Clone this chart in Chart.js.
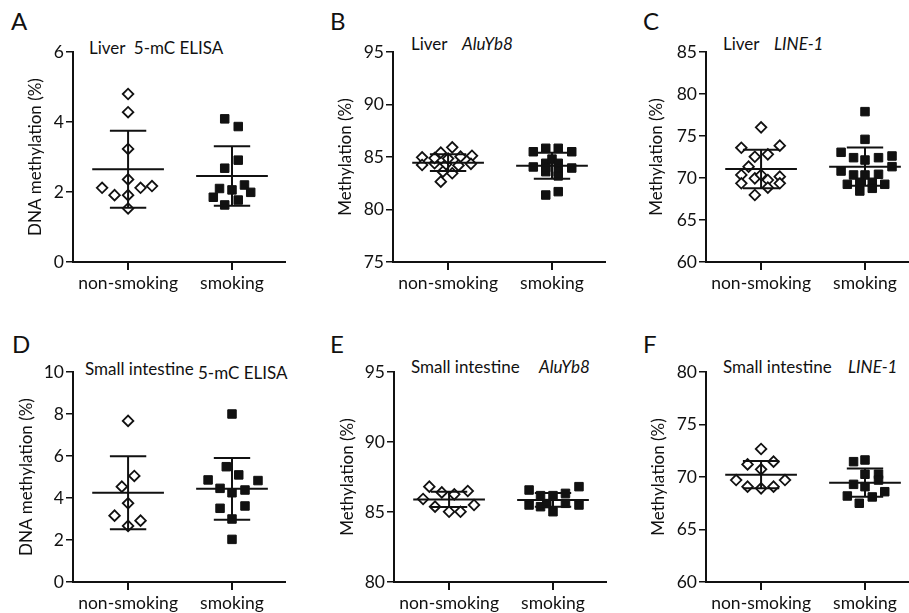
<!DOCTYPE html>
<html>
<head>
<meta charset="utf-8">
<script src="https://cdn.jsdelivr.net/npm/chart.js@4.4.0/dist/chart.umd.min.js"></script>
<style>
  html, body { margin: 0; padding: 0; background: #fff; }
  body { position: relative; width: 909px; height: 613px; overflow: hidden; font-family: Lato, sans-serif; color: #111; }
  .panel { position: absolute; }
  .letter { position: absolute; font-size: 24px; line-height: 1; }
  .ttl { position: absolute; font-size: 17px; line-height: 1; white-space: nowrap; }
  .ttl.i { font-style: italic; }
</style>
</head>
<body>

<div class="letter" style="left:11px;top:9px">A</div>
<div class="letter" style="left:330px;top:9px">B</div>
<div class="letter" style="left:643px;top:9px">C</div>
<div class="letter" style="left:12px;top:332px">D</div>
<div class="letter" style="left:330px;top:332px">E</div>
<div class="letter" style="left:643px;top:332px">F</div>

<div class="ttl" style="left:89px;top:39px">Liver&nbsp;&nbsp;5-mC ELISA</div>
<div class="ttl" style="left:411px;top:35px">Liver</div>
<div class="ttl i" style="left:462px;top:35px">AluYb8</div>
<div class="ttl" style="left:723px;top:35px">Liver</div>
<div class="ttl i" style="left:774px;top:35px">LINE-1</div>
<div class="ttl" style="left:85px;top:360px">Small intestine</div>
<div class="ttl" style="left:198px;top:364px">5-mC ELISA</div>
<div class="ttl" style="left:411px;top:358px">Small intestine</div>
<div class="ttl i" style="left:539px;top:358px">AluYb8</div>
<div class="ttl" style="left:723px;top:358px">Small intestine</div>
<div class="ttl i" style="left:848px;top:358px">LINE-1</div>

<canvas id="cA" class="panel" width="303" height="300" style="left:0px;top:0px"></canvas>
<canvas id="cB" class="panel" width="303" height="300" style="left:320px;top:0px"></canvas>
<canvas id="cC" class="panel" width="303" height="300" style="left:633px;top:0px"></canvas>
<canvas id="cD" class="panel" width="303" height="308" style="left:0px;top:305px"></canvas>
<canvas id="cE" class="panel" width="303" height="308" style="left:321px;top:305px"></canvas>
<canvas id="cF" class="panel" width="303" height="308" style="left:633px;top:305px"></canvas>

<script>
// --- categories ---
const groups = ['non-smoking', 'smoking'];

// --- A: Liver 5-mC ELISA  ([x offset from group, value]) ---
const liverElisaNon = [[0, 4.80], [0, 4.28], [0, 3.23], [0, 2.36], [-0.25, 2.12], [-0.13, 1.91], [0, 1.91], [0.12, 2.12], [0.23, 2.17], [0, 1.53]];
const liverElisaSmk = [[-0.07, 4.09], [0.06, 3.87], [0.06, 2.91], [-0.07, 2.68], [-0.12, 2.10], [0, 2.06], [0.12, 2.20], [0.18, 1.99], [-0.18, 1.85], [0.06, 1.77], [-0.07, 1.63]];
const liverElisaMean = [2.65, 2.46];
const liverElisaSd = [1.10, 0.85];
const liverElisaTicks = [0, 2, 4, 6];

// --- B: Liver AluYb8 ---
const liverAluNon = [[-0.25, 84.97], [-0.25, 84.24], [-0.07, 85.41], [0.04, 85.92], [0.12, 85.03], [0.23, 85.12], [-0.13, 84.4], [-0.02, 84.3], [0.1, 84.2], [0.22, 84.35], [-0.13, 84.9], [0, 84.85], [-0.05, 83.6], [0.04, 83.45], [-0.07, 82.65]];
const liverAluSmk = [[-0.18, 85.5], [-0.18, 84.05], [-0.06, 85.83], [-0.06, 84.4], [-0.06, 83.6], [-0.06, 81.38], [-0.06, 84.0], [0, 84.8], [0.06, 85.83], [0.06, 84.4], [0.06, 83.6], [0.06, 81.7], [0.06, 83.2], [0.19, 85.5], [0.19, 83.95]];
const liverAluMean = [84.46, 84.17];
const liverAluSd = [0.8, 1.24];
const liverAluTicks = [75, 80, 85, 90, 95];

// --- C: Liver LINE-1 ---
const liverLineNon = [[0, 76.03], [-0.19, 73.6], [0.18, 73.85], [-0.06, 72.53], [0.065, 72.82], [-0.12, 71.35], [-0.19, 70.36], [-0.06, 69.96], [0, 70.36], [0.065, 69.76], [0.18, 70.16], [-0.19, 69.37], [0.065, 68.85], [0.18, 69.37], [-0.06, 67.98]];
const liverLineSmk = [[0, 77.9], [0, 74.6], [-0.23, 73.06], [-0.11, 72.42], [0, 72.14], [0.13, 72.42], [0.26, 72.62], [0.26, 71.35], [-0.23, 70.83], [-0.11, 70.36], [0, 70.36], [0.13, 70.44], [-0.17, 69.25], [-0.05, 69.49], [0.07, 69.49], [0.19, 69.25], [-0.05, 68.45], [0.07, 68.77]];
const liverLineMean = [71.07, 71.35];
const liverLineSd = [2.3, 2.27];
const liverLineTicks = [60, 65, 70, 75, 80, 85];

// --- D: Small intestine 5-mC ELISA ---
const siElisaNon = [[0, 7.67], [0.06, 5.05], [-0.06, 4.54], [0, 3.75], [-0.13, 3.16], [0.12, 2.92], [0, 2.67]];
const siElisaSmk = [[0, 8.0], [-0.055, 5.49], [0.065, 5.1], [-0.23, 4.86], [0.25, 4.83], [-0.115, 4.46], [0, 4.25], [0.125, 4.38], [-0.115, 3.51], [0.125, 3.62], [0, 3.0], [0, 2.03]];
const siElisaMean = [4.25, 4.44];
const siElisaSd = [1.74, 1.47];
const siElisaTicks = [0, 2, 4, 6, 8, 10];

// --- E: Small intestine AluYb8 ---
const siAluNon = [[-0.19, 86.81], [-0.07, 86.4], [0.05, 86.26], [0.18, 86.5], [-0.25, 85.93], [-0.135, 85.38], [0.24, 85.5], [0, 85.02], [0.11, 85.02]];
const siAluSmk = [[-0.23, 86.57], [0.25, 86.81], [-0.12, 86.17], [0, 86.17], [0.12, 86.33], [-0.23, 85.5], [-0.12, 85.38], [0, 85.02], [0.12, 85.62], [0.25, 85.5], [-0.06, 85.6]];
const siAluMean = [85.9, 85.86];
const siAluSd = [0.54, 0.49];
const siAluTicks = [80, 85, 90, 95];

// --- F: Small intestine LINE-1 ---
const siLineNon = [[0, 72.67], [-0.13, 71.2], [0.12, 71.46], [0, 70.73], [-0.24, 69.71], [0.23, 69.71], [-0.13, 69.08], [0, 68.92], [0.12, 69.08]];
const siLineSmk = [[-0.11, 71.46], [0, 71.62], [0, 70.26], [0.13, 70.26], [0.13, 69.71], [-0.11, 69.3], [0, 69.08], [0.19, 68.6], [-0.17, 68.19], [0.07, 68.1], [-0.055, 67.5]];
const siLineMean = [70.22, 69.46];
const siLineSd = [1.3, 1.35];
const siLineTicks = [60, 65, 70, 75, 80];

// --- 共通スタイル ---
const FONT = 'Lato';
const INK = '#111';

// mean line + SD whiskers, drawn through the chart scales
const meanSdPlugin = {
    id: 'meanSd',
    afterDatasetsDraw(chart, args, opts) {
        const { ctx, scales: { x, y } } = chart;
        ctx.save();
        ctx.strokeStyle = INK;
        ctx.lineWidth = 2;
        ctx.lineCap = 'butt';
        const seg = (x1, y1, x2, y2) => {
            ctx.beginPath();
            ctx.moveTo(x.getPixelForValue(x1), y.getPixelForValue(y1));
            ctx.lineTo(x.getPixelForValue(x2), y.getPixelForValue(y2));
            ctx.stroke();
        };
        opts.mean.forEach((m, i) => {
            const c = i + 1, s = opts.sd[i];
            seg(c - 0.345, m, c + 0.345, m);
            seg(c, m - s, c, m + s);
            seg(c - 0.175, m + s, c + 0.175, m + s);
            seg(c - 0.175, m - s, c + 0.175, m - s);
        });
        ctx.restore();
    }
};

function toPoints(arr, group) {
    return arr.map(([dx, v]) => ({ x: group + dx, y: v }));
}

function makePanel(id, cfg) {
    const ctx = document.getElementById(id).getContext('2d');
    return new Chart(ctx, {
        type: 'scatter',
        data: {
            datasets: [
                {
                    data: toPoints(cfg.non, 1),
                    pointStyle: 'rectRot',
                    radius: 5.3,
                    backgroundColor: '#fff',
                    borderColor: INK,
                    borderWidth: 1.8
                },
                {
                    data: toPoints(cfg.smk, 2),
                    pointStyle: 'rect',
                    radius: 6,
                    backgroundColor: INK,
                    borderColor: INK,
                    borderWidth: 1
                }
            ]
        },
        options: {
            responsive: false,
            animation: false,
            layout: { padding: { top: cfg.top, right: 18, left: 0, bottom: 0 } },
            plugins: {
                legend: { display: false },
                tooltip: { enabled: false },
                meanSd: { mean: cfg.mean, sd: cfg.sd }
            },
            scales: {
                x: {
                    type: 'linear',
                    min: 0.47,
                    max: 2.51,
                    afterBuildTicks: (s) => { s.ticks = groups.map((g, i) => ({ value: i + 1 })); },
                    afterFit: (s) => { s.height = cfg.xh; },
                    border: { color: INK, width: 2 },
                    grid: { drawOnChartArea: false, drawTicks: true, tickLength: 8, color: INK, lineWidth: 2 },
                    ticks: {
                        callback: (v) => groups[v - 1] || '',
                        color: INK,
                        font: { family: FONT, size: 17.5 },
                        padding: 3,
                        maxRotation: 0
                    }
                },
                y: {
                    min: cfg.ticks[0],
                    max: cfg.ticks[cfg.ticks.length - 1],
                    afterBuildTicks: (s) => { s.ticks = cfg.ticks.map(v => ({ value: v })); },
                    afterFit: (s) => { s.width = 73; },
                    border: { color: INK, width: 2 },
                    grid: { drawOnChartArea: false, drawTicks: true, tickLength: 7, color: INK, lineWidth: 1.5 },
                    ticks: { color: INK, font: { family: FONT, size: 17.5 }, padding: 2 },
                    title: {
                        display: true,
                        text: cfg.ytitle,
                        color: INK,
                        font: { family: FONT, size: 17 },
                        padding: { top: cfg.tpad, bottom: 0 }
                    }
                }
            }
        },
        plugins: [meanSdPlugin]
    });
}

document.fonts.load('17px Lato').then(() => document.fonts.load('italic 17px Lato')).finally(() => {
    makePanel('cA', { non: liverElisaNon, smk: liverElisaSmk, mean: liverElisaMean, sd: liverElisaSd, ticks: liverElisaTicks, ytitle: 'DNA methylation (%)', top: 52, xh: 38, tpad: 25 });
    makePanel('cB', { non: liverAluNon, smk: liverAluSmk, mean: liverAluMean, sd: liverAluSd, ticks: liverAluTicks, ytitle: 'Methylation (%)', top: 52, xh: 38, tpad: 15 });
    makePanel('cC', { non: liverLineNon, smk: liverLineSmk, mean: liverLineMean, sd: liverLineSd, ticks: liverLineTicks, ytitle: 'Methylation (%)', top: 52, xh: 38, tpad: 13 });
    makePanel('cD', { non: siElisaNon, smk: siElisaSmk, mean: siElisaMean, sd: siElisaSd, ticks: siElisaTicks, ytitle: 'DNA methylation (%)', top: 67, xh: 31, tpad: 16 });
    makePanel('cE', { non: siAluNon, smk: siAluSmk, mean: siAluMean, sd: siAluSd, ticks: siAluTicks, ytitle: 'Methylation (%)', top: 67, xh: 31, tpad: 16 });
    makePanel('cF', { non: siLineNon, smk: siLineSmk, mean: siLineMean, sd: siLineSd, ticks: siLineTicks, ytitle: 'Methylation (%)', top: 67, xh: 31, tpad: 15 });
});
</script>
</body>
</html>
